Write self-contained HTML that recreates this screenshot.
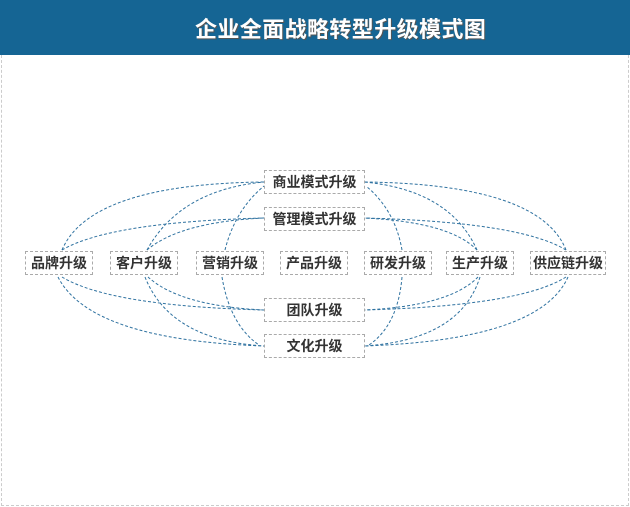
<!DOCTYPE html>
<html><head><meta charset="utf-8"><style>
body{margin:0;width:630px;height:507px;position:relative;background:#fff;font-family:"Liberation Sans","Noto Sans CJK SC",sans-serif;overflow:hidden}
.hd{position:absolute;left:0;top:0;width:630px;height:55px;background:#156594}
.hd div{position:absolute;left:195px;top:12px;color:#fff;font-size:22px;font-weight:bold;letter-spacing:0.4px;white-space:nowrap;text-shadow:1px 1px 0 #555}
.frame{position:absolute;left:1px;top:55px;width:626px;height:450px;border:1px dashed #ccc;border-top:none}
.b{position:absolute;border:1px dashed #aaa;background:#fff;font-size:14px;font-weight:bold;color:#333;text-align:center;line-height:22px;height:22px;white-space:nowrap}
svg{position:absolute;left:0;top:0}
</style></head><body>
<div class="hd"><div>企业全面战略转型升级模式图</div></div>
<div class="frame"></div>
<svg width="630" height="507" fill="none" stroke="#2f72a0" stroke-width="1" stroke-dasharray="3,2">
<path d="M62 250 Q90 184 264 182"/>
<path d="M62 250 Q110 222 264 218"/>
<path d="M58 277 Q90 340 264 346"/>
<path d="M62 277 Q110 306 264 310"/>
<path d="M147 250 Q180 190 264 182"/>
<path d="M147 250 Q180 222 264 218"/>
<path d="M145 277 Q170 340 264 346"/>
<path d="M148 277 Q180 306 264 310"/>
<path d="M225 250 Q235 210 264 186"/>
<path d="M222 277 Q230 325 259 345"/>
<path d="M402 250 Q395 210 366 186"/>
<path d="M402 277 Q398 325 369 345"/>
<path d="M477 250 Q450 190 364 182"/>
<path d="M477 250 Q450 222 364 218"/>
<path d="M480 277 Q460 340 364 346"/>
<path d="M478 277 Q450 306 364 310"/>
<path d="M566 250 Q540 184 364 182"/>
<path d="M566 250 Q520 222 364 218"/>
<path d="M568 277 Q540 340 364 346"/>
<path d="M566 277 Q520 306 364 310"/>
</svg>
<div class="b" style="left:264px;top:170px;width:99px">商业模式升级</div>
<div class="b" style="left:264px;top:207px;width:99px">管理模式升级</div>
<div class="b" style="left:264px;top:298px;width:99px">团队升级</div>
<div class="b" style="left:264px;top:334px;width:99px">文化升级</div>
<div class="b" style="left:25px;top:251px;width:66px">品牌升级</div>
<div class="b" style="left:110px;top:251px;width:66px">客户升级</div>
<div class="b" style="left:196px;top:251px;width:66px">营销升级</div>
<div class="b" style="left:280px;top:251px;width:66px">产品升级</div>
<div class="b" style="left:364px;top:251px;width:66px">研发升级</div>
<div class="b" style="left:446px;top:251px;width:66px">生产升级</div>
<div class="b" style="left:530px;top:251px;width:74px">供应链升级</div>
</body></html>
